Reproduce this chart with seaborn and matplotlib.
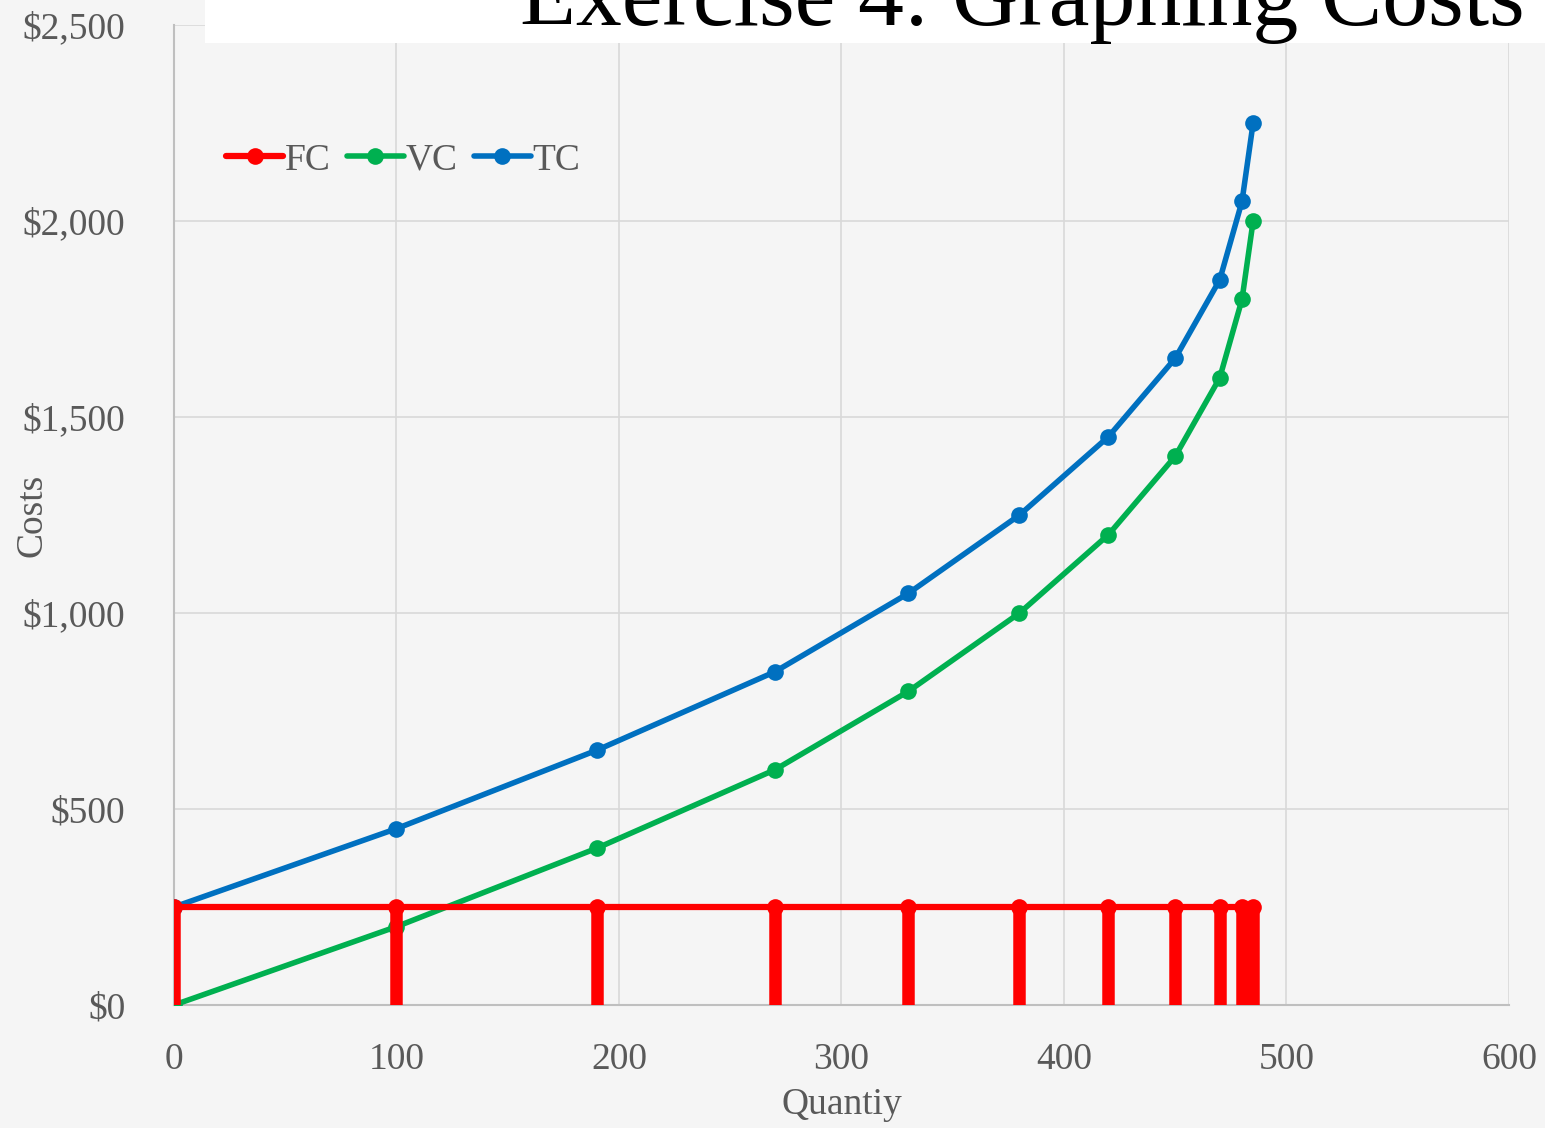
import matplotlib
matplotlib.use("Agg")
import matplotlib.pyplot as plt
import seaborn as sns
import pandas as pd
from matplotlib.patches import Rectangle

quantity = [0, 100, 190, 270, 330, 380, 420, 450, 470, 480, 485]
fc = [250, 250, 250, 250, 250, 250, 250, 250, 250, 250, 250]
vc = [0, 200, 400, 600, 800, 1000, 1200, 1400, 1600, 1800, 2000]
tc = [250, 450, 650, 850, 1050, 1250, 1450, 1650, 1850, 2050, 2250]
x_ticks = [0, 100, 200, 300, 400, 500, 600]
y_ticks = [0, 500, 1000, 1500, 2000, 2500]
y_labels = ["$0", "$500", "$1,000", "$1,500", "$2,000", "$2,500"]

sns.set_theme(style="whitegrid")
plt.rcParams['font.family'] = ['Liberation Serif', 'DejaVu Serif']

bg = "#f5f5f5"
fig = plt.figure(figsize=(15.45, 11.28), dpi=100, facecolor=bg)
ax = fig.add_axes([0.1126, 0.1090, 0.9767 - 0.1126, 0.9778 - 0.1090])
ax.set_facecolor(bg)

df = pd.DataFrame({"Quantity": quantity, "FC": fc, "VC": vc, "TC": tc})
lw = 4.0
ms = 12
sns.lineplot(data=df, x="Quantity", y="VC", color="#00B050", marker="o", markersize=ms,
             markeredgewidth=0, linewidth=lw, ax=ax, label="VC", zorder=3)
sns.lineplot(data=df, x="Quantity", y="TC", color="#0070C0", marker="o", markersize=ms,
             markeredgewidth=0, linewidth=lw, ax=ax, label="TC", zorder=3)
sns.lineplot(data=df, x="Quantity", y="FC", color="#FF0000", marker="o", markersize=ms,
             markeredgewidth=0, linewidth=4.5, ax=ax, label="FC", zorder=4)
ax.vlines(quantity, 0, fc, color="#FF0000", linewidth=9, zorder=4)

ax.set_xlim(0, 600)
ax.set_ylim(0, 2500)
ax.set_xticks(x_ticks)
ax.set_yticks(y_ticks)
ax.set_yticklabels(y_labels)
ax.tick_params(axis="both", length=0, labelsize=27, colors="#595959")
ax.tick_params(axis="x", pad=27)
ax.tick_params(axis="y", pad=35)
ax.grid(True, color="#d9d9d9", linewidth=1.2)
for s in ["top", "right"]:
    ax.spines[s].set_visible(False)
for s in ["left", "bottom"]:
    ax.spines[s].set_color("#bfbfbf")
    ax.spines[s].set_linewidth(1.5)

ax.set_xlabel("Quantiy", fontsize=27, color="#595959")
ax.xaxis.set_label_coords(0.5, -(1105 - 1005) / 980, transform=ax.transAxes)
ax.xaxis.label.set_va("center")
ax.set_ylabel("Costs", fontsize=27, color="#595959")
ax.yaxis.set_label_coords(-(174 - 32) / 1335, 0.5, transform=ax.transAxes)
ax.yaxis.label.set_va("center")

handles, labels = ax.get_legend_handles_labels()
order = [labels.index(k) for k in ["FC", "VC", "TC"]]
leg = ax.legend([handles[i] for i in order], [labels[i] for i in order],
                loc="upper left", bbox_to_anchor=(0.014, 0.914), ncol=3, frameon=False,
                fontsize=27, handlelength=1.5, handletextpad=0.05, columnspacing=0.45,
                labelcolor="#595959")

fig.patches.append(Rectangle((205 / 1545, 1 - 43 / 1128), 1340 / 1545, 43 / 1128,
                             transform=fig.transFigure, facecolor="white",
                             edgecolor="none", zorder=5))
fig.text(1525 / 1545, 1 - 25 / 1128, "Exercise 4: Graphing Costs", fontsize=66,
         ha="right", va="baseline", color="black", zorder=6)

fig.savefig("out.png", dpi=100, facecolor=bg)
